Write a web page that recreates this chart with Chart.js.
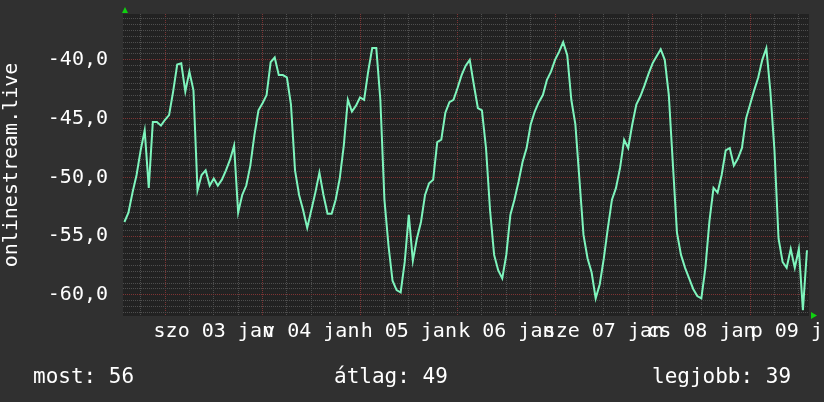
<!DOCTYPE html>
<html>
<head>
<meta charset="utf-8">
<script src="https://cdn.jsdelivr.net/npm/chart.js@4/dist/chart.umd.min.js"></script>
<style>
  html, body { margin: 0; padding: 0; background: #303030; }
  canvas { display: block; }
</style>
</head>
<body>
<canvas id="canvas-rrd" width="824" height="402"></canvas>
<script>
// one sample per hour, hour 0 = szo 03 jan 00:00
var startHour = -10;
var signal = [
  -53.8, -53.0, -51.3, -49.8, -47.7, -46.0, -50.9, -45.3, -45.3, -45.6,
  -45.1, -44.7, -42.7, -40.4, -40.3, -42.7, -41.0, -42.6, -51.1, -49.8, -49.4, -50.7,
  -50.1, -50.7, -50.2, -49.4, -48.5, -47.3, -53.0, -51.5, -50.7, -49.0, -46.4, -44.3,
  -43.7, -43.0, -40.2, -39.8, -41.3, -41.3, -41.5, -43.8, -49.4, -51.5, -52.8, -54.3,
  -52.8, -51.3, -49.6, -51.5, -53.1, -53.1, -51.9, -50.1, -47.3, -43.4, -44.4, -43.9,
  -43.2, -43.4, -41.0, -39.0, -39.0, -43.4, -51.9, -55.8, -58.8, -59.6, -59.8, -57.2,
  -53.2, -57.1, -55.2, -53.8, -51.5, -50.5, -50.2, -47.0, -46.8, -44.5, -43.6, -43.4,
  -42.4, -41.3, -40.5, -40.0, -42.1, -44.1, -44.3, -47.5, -52.8, -56.6, -57.9, -58.6,
  -56.6, -53.2, -51.9, -50.4, -48.7, -47.5, -45.5, -44.4, -43.6, -43.0, -41.7, -41.0,
  -40.0, -39.3, -38.5, -39.6, -43.4, -45.5, -50.2, -54.9, -56.9, -58.1, -60.3, -59.1,
  -56.9, -54.3, -51.9, -50.9, -49.2, -46.8, -47.5, -45.5, -43.8, -43.1, -42.2, -41.2,
  -40.3, -39.7, -39.1, -40.0, -43.0, -48.9, -54.7, -56.6, -57.7, -58.6, -59.5, -60.1,
  -60.3, -57.7, -53.7, -50.9, -51.3, -49.8, -47.7, -47.5, -49.0, -48.4, -47.5, -45.0,
  -43.8, -42.6, -41.5, -40.0, -39.0, -42.7, -47.7, -55.2, -57.2, -57.7, -56.1, -57.7,
  -56.1, -61.3, -56.2
];
var dayLabels = ['szo 03 jan', 'v 04 jan', 'h 05 jan', 'k 06 jan', 'sze 07 jan', 'cs 08 jan', 'p 09 jan'];
var legendItems = ['most: 56', 'átlag: 49', 'legjobb: 39'];
var yTitle = 'onlinestream.live';

var monoFont = 'DejaVu Sans Mono';
var gridMinor = '#4e4e4e';
var gridMajor = '#7e3434';

var points = signal.map(function(v, i){ return {x: startHour + i, y: v}; });

var rrdFrame = {
    id: 'rrdFrame',
    beforeDraw: function(chart){
        var ctx = chart.ctx, a = chart.chartArea;
        ctx.save();
        ctx.fillStyle = '#303030';
        ctx.fillRect(0, 0, chart.width, chart.height);
        ctx.fillStyle = '#222222';
        ctx.fillRect(a.left, a.top, a.right - a.left, a.bottom - a.top);
        ctx.restore();
    },
    afterDraw: function(chart){
        var ctx = chart.ctx, a = chart.chartArea;
        ctx.save();
        // little green arrows at the axis ends
        ctx.fillStyle = '#10d010';
        ctx.beginPath();
        ctx.moveTo(a.left - 1, a.top - 1);
        ctx.lineTo(a.left + 5, a.top - 1);
        ctx.lineTo(a.left + 2, a.top - 7);
        ctx.closePath();
        ctx.fill();
        ctx.beginPath();
        ctx.moveTo(a.right + 2, a.bottom - 4);
        ctx.lineTo(a.right + 2, a.bottom + 3);
        ctx.lineTo(a.right + 8, a.bottom - 0.5);
        ctx.closePath();
        ctx.fill();
        // legend line
        ctx.fillStyle = '#ffffff';
        ctx.font = '21px "' + monoFont + '"';
        ctx.textBaseline = 'alphabetic';
        ctx.fillText(legendItems[0], 33, 383);
        ctx.fillText(legendItems[1], 334, 383);
        ctx.fillText(legendItems[2], 652, 383);
        ctx.restore();
    }
};

var ctx = document.getElementById('canvas-rrd').getContext('2d');
var chart = new Chart(ctx, {
    type: 'line',
    data: {
        datasets: [{
            data: points,
            borderColor: '#7ef5bd',
            borderWidth: 2,
            pointRadius: 0,
            tension: 0,
            fill: false
        }]
    },
    options: {
        responsive: false,
        devicePixelRatio: 1,
        animation: false,
        layout: { padding: { left: 0, right: 15, top: 14, bottom: 0 } },
        plugins: { legend: { display: false }, tooltip: { enabled: false } },
        scales: {
            x: {
                type: 'linear',
                min: -10.34,
                max: 158.5,
                grid: {
                    drawTicks: false,
                    lineWidth: 1,
                    color: function(c){
                        if (!c.tick) return gridMinor;
                        return (Math.abs(c.tick.value % 24) < 1e-6) ? gridMajor : gridMinor;
                    }
                },
                border: { display: false, dash: [1, 1] },
                ticks: {
                    stepSize: 6,
                    includeBounds: false,
                    autoSkip: false,
                    maxRotation: 0,
                    minRotation: 0,
                    padding: 4,
                    color: '#ffffff',
                    font: { family: monoFont, size: 20 },
                    callback: function(v){
                        var h = ((v % 24) + 24) % 24;
                        if (h === 12) return dayLabels[Math.floor(v / 24)] || '';
                        return '';
                    }
                },
                afterFit: function(s){ s.height = 86; s.paddingLeft = 0; s.paddingRight = 0; }
            },
            y: {
                type: 'linear',
                min: -61.8,
                max: -36.1,
                grid: {
                    drawTicks: false,
                    lineWidth: 1,
                    color: function(c){
                        if (!c.tick) return gridMinor;
                        return (Math.abs(c.tick.value % 5) < 1e-6) ? gridMajor : gridMinor;
                    }
                },
                border: { display: false, dash: [1, 1] },
                ticks: {
                    stepSize: 0.5,
                    includeBounds: false,
                    autoSkip: false,
                    padding: 15,
                    color: '#ffffff',
                    font: { family: monoFont, size: 20 },
                    callback: function(v){
                        if (Math.abs(v % 5) < 1e-6) return v.toFixed(1).replace('.', ',');
                        return '';
                    }
                },
                title: {
                    display: true,
                    text: yTitle,
                    color: '#ffffff',
                    font: { family: monoFont, size: 20 },
                    padding: 0
                },
                afterFit: function(s){ s.width = 123; s.paddingTop = 0; s.paddingBottom = 0; }
            }
        }
    },
    plugins: [rrdFrame]
});
</script>
</body>
</html>
